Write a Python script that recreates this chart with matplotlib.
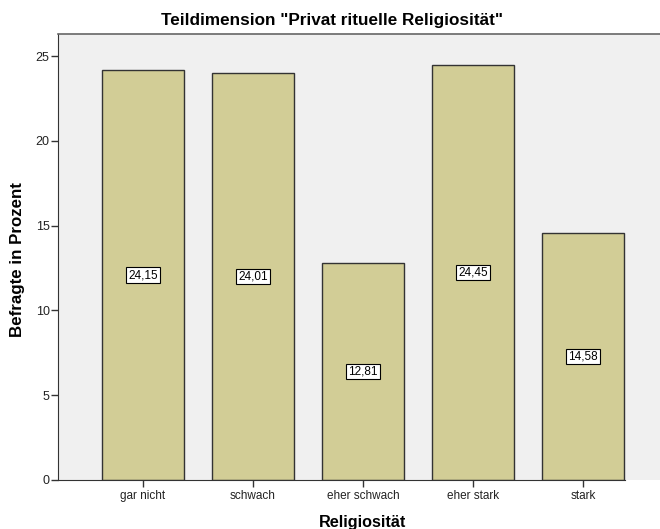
import matplotlib
matplotlib.use("Agg")
import matplotlib.pyplot as plt

categories = ["gar nicht", "schwach", "eher schwach", "eher stark", "stark"]
values = [24.15, 24.01, 12.81, 24.45, 14.58]
value_labels = ["24,15", "24,01", "12,81", "24,45", "14,58"]
yticks = [0, 5, 10, 15, 20, 25]

plt.rcParams['font.family'] = ['Liberation Sans', 'DejaVu Sans']

fig = plt.figure(figsize=(6.6, 5.29), dpi=100)
ax = fig.add_axes([58/660, 49/529, 1 - 58/660, (480-34)/529])
ax.set_facecolor('#f0f0f0')

x = list(range(len(categories)))
ax.bar(x, values, width=0.75, color='#d2cd96', edgecolor='#333333', linewidth=1.0, zorder=2)
for xi, v, lab in zip(x, values, value_labels):
    ax.text(xi, v / 2, lab, ha='center', va='center', fontsize=8.5, zorder=3,
            bbox=dict(boxstyle='square,pad=0.15', facecolor='white', edgecolor='black', linewidth=0.8))

ax.set_xlim(-0.773, 4.70)
ax.set_ylim(0, 26.3)
ax.set_yticks(yticks)
ax.set_yticklabels([str(t) for t in yticks], fontsize=9, color='#222222')
ax.set_xticks(x)
ax.set_xticklabels(categories, fontsize=8.5, color='#222222')
ax.tick_params(axis='both', direction='out', length=5, width=1, color='#333333')
ax.tick_params(axis='y', pad=1)
ax.tick_params(axis='x', pad=2)

ax.spines['right'].set_visible(False)
ax.spines['top'].set_color('#666666')
ax.spines['top'].set_linewidth(1.2)
ax.spines['left'].set_color('#333333')
ax.spines['bottom'].set_color('#333333')
ax.spines['bottom'].set_bounds(-0.773, 4.386)

ax.set_ylabel('Befragte in Prozent', fontsize=12.2, fontweight='bold')
ax.yaxis.set_label_coords(-(58 - 18) / 602, 0.495)
ax.set_xlabel('Religiosität', fontsize=11.7, fontweight='bold')
ax.xaxis.set_label_coords((363 - 58) / 602, -(522 - 480) / 446)
ax.xaxis.label.set_va('center')
ax.yaxis.label.set_va('center')
fig.text(332/660, 1 - 20/529, 'Teildimension "Privat rituelle Religiosität"', ha='center', va='center',
         fontsize=12.3, fontweight='bold')

fig.savefig('out.png', dpi=100, facecolor='white')
